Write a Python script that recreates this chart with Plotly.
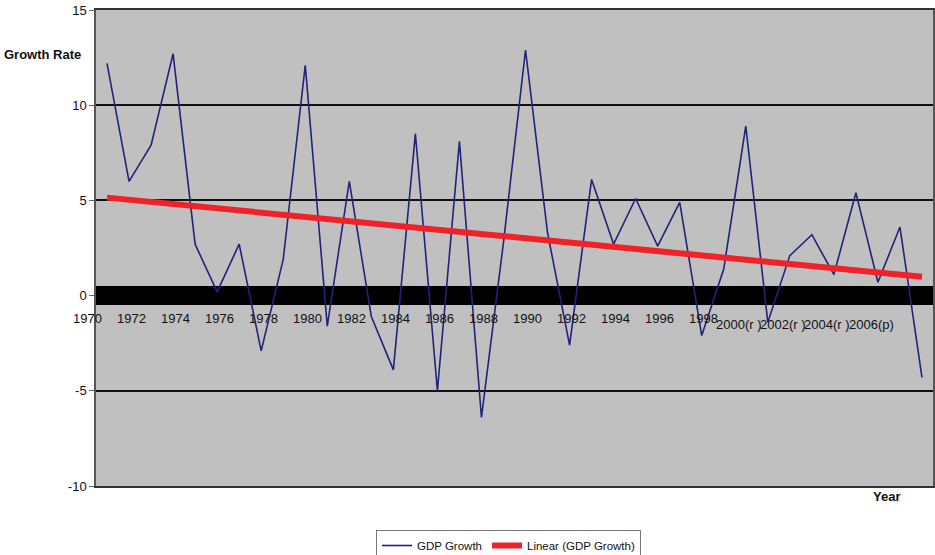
import numpy as np
import plotly.graph_objects as go

years = list(range(1971, 2009))
gdp_growth = [12.2, 6.0, 7.9, 12.7, 2.7, 0.2, 2.7, -2.9, 1.9, 12.1,
              -1.6, 6.0, -1.1, -3.9, 8.5, -5.0, 8.1, -6.4, 2.8, 12.9,
              3.3, -2.6, 6.1, 2.7, 5.1, 2.6, 4.9, -2.1, 1.4, 8.9,
              -1.4, 2.1, 3.2, 1.1, 5.4, 0.7, 3.6, -4.3]

tick_years_a = [1970, 1972, 1974, 1976, 1978, 1980, 1982, 1984, 1986, 1988,
                1990, 1992, 1994, 1996, 1998]
tick_labels_a = [str(y) for y in tick_years_a]
tick_years_b = [2000, 2002, 2004, 2006]
tick_labels_b = ["2000(r )", "2002(r )", "2004(r )", "2006(p)"]

y_ticks = [-10, -5, 0, 5, 10, 15]

X_MIN, X_MAX = 1970.5, 2008.5
Y_MIN, Y_MAX = -10, 15

# linear trend (Excel-style linear trendline)
coef = np.polyfit(years, gdp_growth, 1)
trend = [float(coef[0] * y + coef[1]) for y in years]

fig = go.Figure()
fig.add_trace(go.Scatter(x=years, y=gdp_growth, mode="lines", name="GDP Growth",
                         line=dict(color="#22227a", width=1.6)))
fig.add_trace(go.Scatter(x=years, y=trend, mode="lines", name="Linear (GDP Growth)",
                         line=dict(color="#ee2228", width=6)))

font = "Liberation Sans, Arial, sans-serif"

W, H = 935, 555
PL, PT, PW, PH = 96, 10, 837, 476  # plot area in window pixels


def px_x(yr):
    return (yr - X_MIN) / (X_MAX - X_MIN)


def px_y(v):
    return (v - Y_MIN) / (Y_MAX - Y_MIN)


def wx(px):
    return (px - PL) / PW


def wy(py):
    return (PT + PH - py) / PH


annotations = []
for yr, lab in zip(tick_years_a, tick_labels_a):
    annotations.append(dict(x=px_x(yr + 0.1), y=px_y(-1.2), xref="paper", yref="paper", text=lab,
                            showarrow=False, font=dict(family=font, size=13, color="#111"),
                            xanchor="center", yanchor="middle"))
for yr, lab in zip(tick_years_b, tick_labels_b):
    annotations.append(dict(x=px_x(yr - 0.3), y=px_y(-1.5), xref="paper", yref="paper", text=lab,
                            showarrow=False, font=dict(family=font, size=13, color="#111"),
                            xanchor="center", yanchor="middle"))
annotations.append(dict(x=wx(43), y=wy(54), xref="paper", yref="paper",
                        text="<b>Growth Rate</b>", showarrow=False, xanchor="center", yanchor="middle",
                        font=dict(family=font, size=13, color="#111")))
annotations.append(dict(x=wx(886), y=wy(497), xref="paper", yref="paper",
                        text="<b>Year</b>", showarrow=False, xanchor="center", yanchor="middle",
                        font=dict(family=font, size=13, color="#111")))

fig.update_layout(
    width=W, height=H,
    margin=dict(l=PL, r=W - PL - PW, t=PT, b=H - PT - PH, autoexpand=False),
    paper_bgcolor="white", plot_bgcolor="#c0c0c0",
    font=dict(family=font, size=13, color="#111"),
    showlegend=True,
    legend=dict(orientation="h", x=wx(376), y=wy(530),
                xanchor="left", yanchor="top",
                bgcolor="white", bordercolor="#777", borderwidth=1,
                font=dict(family=font, size=11.5, color="#111"),
                itemwidth=30, tracegroupgap=0),
    annotations=annotations,
    xaxis=dict(range=[X_MIN, X_MAX], showgrid=False, zeroline=False,
               showticklabels=False, ticks="",
               showline=True, linecolor="#333", linewidth=1.5, mirror=True),
    yaxis=dict(range=[Y_MIN, Y_MAX], tickvals=y_ticks, ticktext=[str(v) for v in y_ticks],
               showgrid=True, gridcolor="#111", gridwidth=1.6,
               zeroline=True, zerolinecolor="black", zerolinewidth=19,
               ticks="outside", ticklen=5, tickcolor="#666",
               showline=True, linecolor="#555", linewidth=1.5, mirror=True,
               tickfont=dict(family=font, size=13, color="#111")),
)

fig.write_html("out.html", config={"displayModeBar": False},
               post_script="document.body.style.margin='0';document.body.style.padding='0';")
